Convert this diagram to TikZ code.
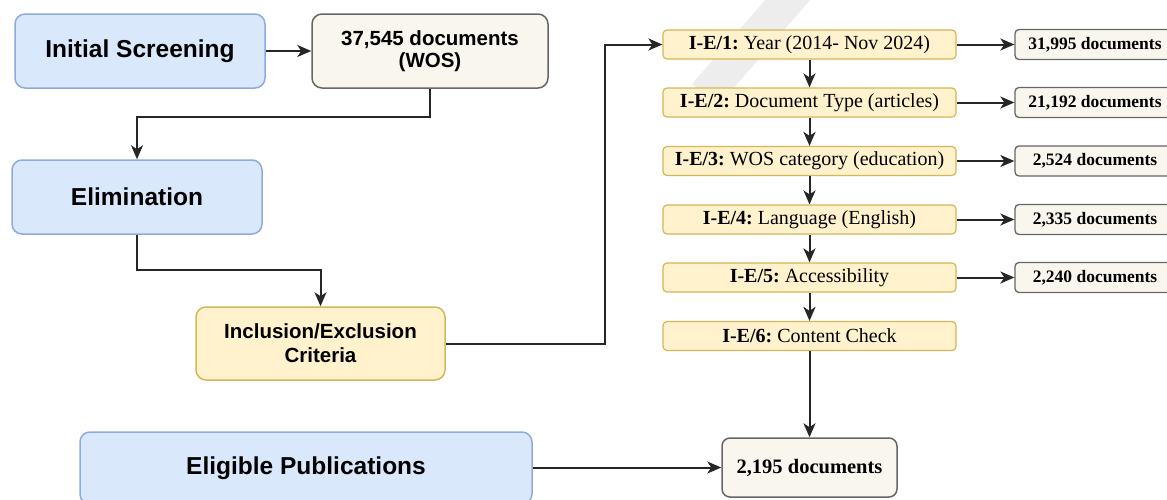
\documentclass[tikz,border=0pt]{standalone}
\usepackage{fontspec}
\setmainfont{Liberation Serif}
\newfontfamily\sansb{Liberation Sans}
\usetikzlibrary{arrows.meta}
\definecolor{bluefill}{HTML}{DAE8FC}
\definecolor{blueline}{HTML}{8FAADC}
\definecolor{yelfill}{HTML}{FFF2CC}
\definecolor{yelline}{HTML}{D6B656}
\definecolor{docfill}{HTML}{F9F7ED}
\definecolor{docline}{HTML}{666666}
\definecolor{conn}{HTML}{262626}
\definecolor{wmark}{HTML}{EDEDED}
\tikzset{
  bluebox/.style={draw=blueline, fill=bluefill, line width=1.5pt, rounded corners=10pt,
    inner sep=0pt, align=center, font=\sansb\bfseries\fontsize{24.5}{28}\selectfont},
  inclbox/.style={draw=yelline, fill=yelfill, line width=1.5pt, rounded corners=10pt,
    inner sep=0pt, align=center, font=\sansb\bfseries\fontsize{20.5}{24}\selectfont},
  wosbox/.style={draw=docline, fill=docfill, line width=1.5pt, rounded corners=10pt,
    inner sep=0pt, align=center, font=\sansb\bfseries\fontsize{20.5}{22}\selectfont},
  iebox/.style={draw=yelline, fill=yelfill, line width=1.2pt, rounded corners=4pt,
    inner sep=0pt, minimum width=293pt, minimum height=29pt, font=\fontsize{20}{22}\selectfont},
  docbox/.style={draw=docline, fill=docfill, line width=1.3pt, rounded corners=4pt,
    inner sep=0pt, minimum width=160pt, minimum height=30pt, font=\bfseries\fontsize{17.5}{20}\selectfont},
  finbox/.style={draw=docline, fill=docfill, line width=1.5pt, rounded corners=8pt,
    inner sep=0pt, minimum width=175pt, minimum height=59pt, font=\bfseries\fontsize{20.5}{22}\selectfont},
  arr/.style={draw=conn, line width=2pt, -{Stealth[length=14pt,width=12pt,inset=4pt]}}
}
\begin{document}
\begin{tikzpicture}[x=1pt,y=-1pt]
\useasboundingbox (0,0) rectangle (1167,499);
\clip (0,0) rectangle (1167,499);
% watermark
\draw[wmark, line width=34pt, line cap=butt] (805,-20) -- (705,95);

\node[bluebox, minimum width=250pt, minimum height=74pt] (init) at (140,51) {Initial Screening};
\node[wosbox, minimum width=236pt, minimum height=74pt] (wos) at (430,51) {37,545 documents\\(WOS)};
\node[bluebox, minimum width=250pt, minimum height=74pt] (elim) at (137,197) {Elimination};
\node[inclbox, minimum width=249pt, minimum height=73pt] (incl) at (320.5,343.5) {Inclusion/Exclusion\\Criteria};
\node[bluebox, minimum width=452pt, minimum height=72pt] (elig) at (306,468) {Eligible Publications};

\node[iebox] (ie1) at (809.5,44.5) {\textbf{I-E/1:}~Year (2014- Nov 2024)};
\node[iebox] (ie2) at (809.5,102.5) {\textbf{I-E/2:}~Document Type (articles)};
\node[iebox] (ie3) at (809.5,161) {\textbf{I-E/3:}~WOS category (education)};
\node[iebox] (ie4) at (809.5,219.5) {\textbf{I-E/4:}~Language (English)};
\node[iebox] (ie5) at (809.5,277.5) {\textbf{I-E/5:}~Accessibility};
\node[iebox] (ie6) at (809.5,336) {\textbf{I-E/6:}~Content Check};

\node[docbox] (d1) at (1095,44.5) {31,995 documents};
\node[docbox] (d2) at (1095,102.5) {21,192 documents};
\node[docbox] (d3) at (1095,161) {2,524 documents};
\node[docbox] (d4) at (1095,219.5) {2,335 documents};
\node[docbox] (d5) at (1095,277.5) {2,240 documents};

\node[finbox] (fin) at (809.5,467.5) {2,195 documents};

\coordinate (c1) at (430,117);
\coordinate (c2) at (137,117);
\coordinate (c3) at (137,270);
\coordinate (c4) at (320.5,270);
\coordinate (c5) at (605,343.5);
\coordinate (c6) at (605,44.5);

\draw[arr] (init.east) -- (wos.west);
\draw[arr] (wos.south) -- (c1) -- (c2) -- (elim.north);
\draw[arr] (elim.south) -- (c3) -- (c4) -- (incl.north);
\draw[arr] (incl.east) -- (c5) -- (c6) -- (ie1.west);
\draw[arr] (ie1) -- (ie2);
\draw[arr] (ie2) -- (ie3);
\draw[arr] (ie3) -- (ie4);
\draw[arr] (ie4) -- (ie5);
\draw[arr] (ie5) -- (ie6);
\draw[arr] (ie6) -- (fin);
\draw[arr] (ie1) -- (d1);
\draw[arr] (ie2) -- (d2);
\draw[arr] (ie3) -- (d3);
\draw[arr] (ie4) -- (d4);
\draw[arr] (ie5) -- (d5);
\draw[arr] (elig.east |- fin.west) -- (fin.west);
\end{tikzpicture}
\end{document}
